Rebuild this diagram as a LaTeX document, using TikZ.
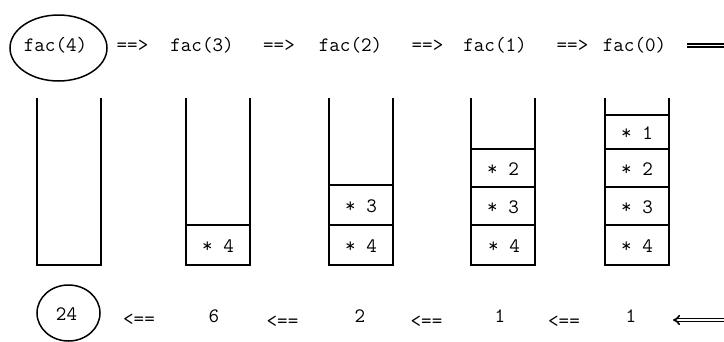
\documentclass[tikz,border=0pt]{standalone}
\usetikzlibrary{arrows.meta,shapes.geometric}
\begin{document}
\begin{tikzpicture}[x=1pt,y=-1pt,
  code/.style={font=\ttfamily\fontsize{20.5}{22}\selectfont, inner sep=0pt, anchor=base},
  cellText/.style={font=\ttfamily\fontsize{20.5}{22}\selectfont, inner sep=0pt},
  wall/.style={line width=1.5pt},
  ring/.style={draw, ellipse, line width=1.5pt, inner sep=0pt},
  dbl/.style={double, line width=1.6pt, double distance=1.6pt}
]
\useasboundingbox (0,0) rectangle (724,341);

% call chain along the top
\node[ring, minimum width=97pt, minimum height=66pt] (c4ring) at (58.5,48) {};
\node[code] (c4) at (55.5,51) {fac(4)};
\node[code] (a1) at (132.5,51) {==>};
\node[code] (c3) at (202,51) {fac(3)};
\node[code] (a2) at (279,51) {==>};
\node[code] (c2) at (350.5,51) {fac(2)};
\node[code] (a3) at (427.5,51) {==>};
\node[code] (c1) at (495,51) {fac(1)};
\node[code] (a4) at (572.5,51) {==>};
\node[code] (c0) at (634.5,51) {fac(0)};
\coordinate (topstart) at (687,45.3);
\coordinate (topend) at (726,45.3);
\draw[dbl] (topstart) -- (topend);

% stacks of pending multiplications
\foreach \l/\seps in {37/{}, 186/{225}, 329/{185,225}, 471/{149,187,225}, 605/{115,149,187,225}}{
  \draw[wall] (\l,98) -- (\l,265) -- (\l+64,265) -- (\l+64,98);
  \foreach \s in \seps {\draw[wall] (\l,\s) -- (\l+64,\s);}
}
\node[cellText] (s2a) at (218,246) {* 4};
\node[cellText] (s3a) at (361,246) {* 4};
\node[cellText] (s3b) at (361,206) {* 3};
\node[cellText] (s4a) at (504,246) {* 4};
\node[cellText] (s4b) at (503,207) {* 3};
\node[cellText] (s4c) at (503,169) {* 2};
\node[cellText] (s5a) at (637,246) {* 4};
\node[cellText] (s5b) at (637,207) {* 3};
\node[cellText] (s5c) at (637,169) {* 2};
\node[cellText] (s5d) at (637,133) {* 1};

% results returned along the bottom
\node[ring, minimum width=63pt, minimum height=56pt] (r24ring) at (68.5,313) {};
\node[code] (r24) at (66.5,320) {24};
\node[code] (b1) at (139,325) {<==};
\node[code] (r6) at (214,322) {6};
\node[code] (b2) at (282.5,327) {<==};
\node[code] (r2) at (360,322) {2};
\node[code] (b3) at (426.5,327) {<==};
\node[code] (r1) at (500,322) {1};
\node[code] (b4) at (564,327) {<==};
\node[code] (r0) at (631,322) {1};
\coordinate (bottip) at (673,320);
\coordinate (botend) at (726,320);
\draw[dbl, {Implies[scale=0.75]}-] (bottip) -- (botend);
\end{tikzpicture}
\end{document}
